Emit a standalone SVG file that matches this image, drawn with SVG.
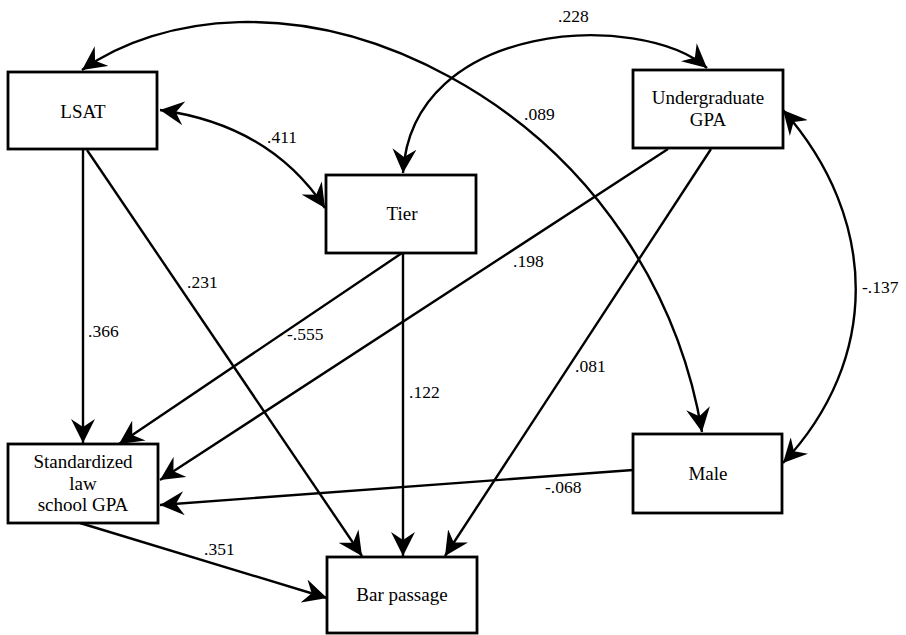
<svg xmlns="http://www.w3.org/2000/svg" width="906" height="635" viewBox="0 0 906 635">
<style>
.box{fill:#fff;stroke:#000;stroke-width:2.8}
.node{font-family:"Liberation Serif","DejaVu Serif",serif;font-size:19px;fill:#000;text-anchor:middle}
.lbl{font-family:"Liberation Serif","DejaVu Serif",serif;font-size:17.5px;fill:#000}
.c{fill:none;stroke:#000;stroke-width:2.4}
.one{marker-end:url(#ah)}
.two{marker-start:url(#ah);marker-end:url(#ah)}
</style>
<defs>
<marker id="ah" viewBox="0 0 24 24" refX="24" refY="12" markerWidth="24" markerHeight="24" markerUnits="userSpaceOnUse" orient="auto-start-reverse">
<path d="M24,12 L0,0 L8,12 L0,24 Z" fill="#000"/>
</marker>
</defs>
<g id="connectors">
<path class="c two" d="M82,70 C160,15 300,-5 450,77 S680,300 702,432"/>
<path class="c two" d="M403,173 C412,20 640,10 707,68"/>
<path class="c two" d="M160,110 Q270,125 325,208"/>
<path class="c two" d="M783,110 C880,220 880,360 783,463"/>
<path class="c one" d="M83,150 L83,443"/>
<path class="c one" d="M87,150 L362,556"/>
<path class="c one" d="M402,253 L119,444"/>
<path class="c one" d="M403,253 L403,556"/>
<path class="c one" d="M668,149 L160,480"/>
<path class="c one" d="M711,149 L445,556"/>
<path class="c one" d="M633,470 L160,505"/>
<path class="c one" d="M80,523 L327,598"/>
</g>
<g id="labels">
<text class="lbl" x="558" y="22">.228</text>
<text class="lbl" x="267" y="143">.411</text>
<text class="lbl" x="524" y="120">.089</text>
<text class="lbl" x="187" y="288">.231</text>
<text class="lbl" x="513" y="267">.198</text>
<text class="lbl" x="88" y="337">.366</text>
<text class="lbl" x="287" y="340">-.555</text>
<text class="lbl" x="409" y="398">.122</text>
<text class="lbl" x="575" y="372">.081</text>
<text class="lbl" x="862" y="293">-.137</text>
<text class="lbl" x="545" y="493">-.068</text>
<text class="lbl" x="204" y="555">.351</text>
</g>
<g id="lsat">
<rect class="box" x="8" y="72" width="149" height="77"/>
<text class="node" x="83" y="118">LSAT</text>
</g>
<g id="tier">
<rect class="box" x="326" y="175" width="150" height="78"/>
<text class="node" x="402" y="220">Tier</text>
</g>
<g id="ugpa">
<rect class="box" x="633" y="70" width="150" height="78"/>
<text class="node" x="708" y="104">Undergraduate</text>
<text class="node" x="708" y="126">GPA</text>
</g>
<g id="sgpa">
<rect class="box" x="8" y="444" width="150" height="79"/>
<text class="node" x="83" y="468">Standardized</text>
<text class="node" x="83" y="490">law</text>
<text class="node" x="83" y="511">school GPA</text>
</g>
<g id="male">
<rect class="box" x="633" y="434" width="149" height="79"/>
<text class="node" x="708" y="480">Male</text>
</g>
<g id="bar">
<rect class="box" x="327" y="557" width="150" height="76"/>
<text class="node" x="402" y="601">Bar passage</text>
</g>
</svg>
